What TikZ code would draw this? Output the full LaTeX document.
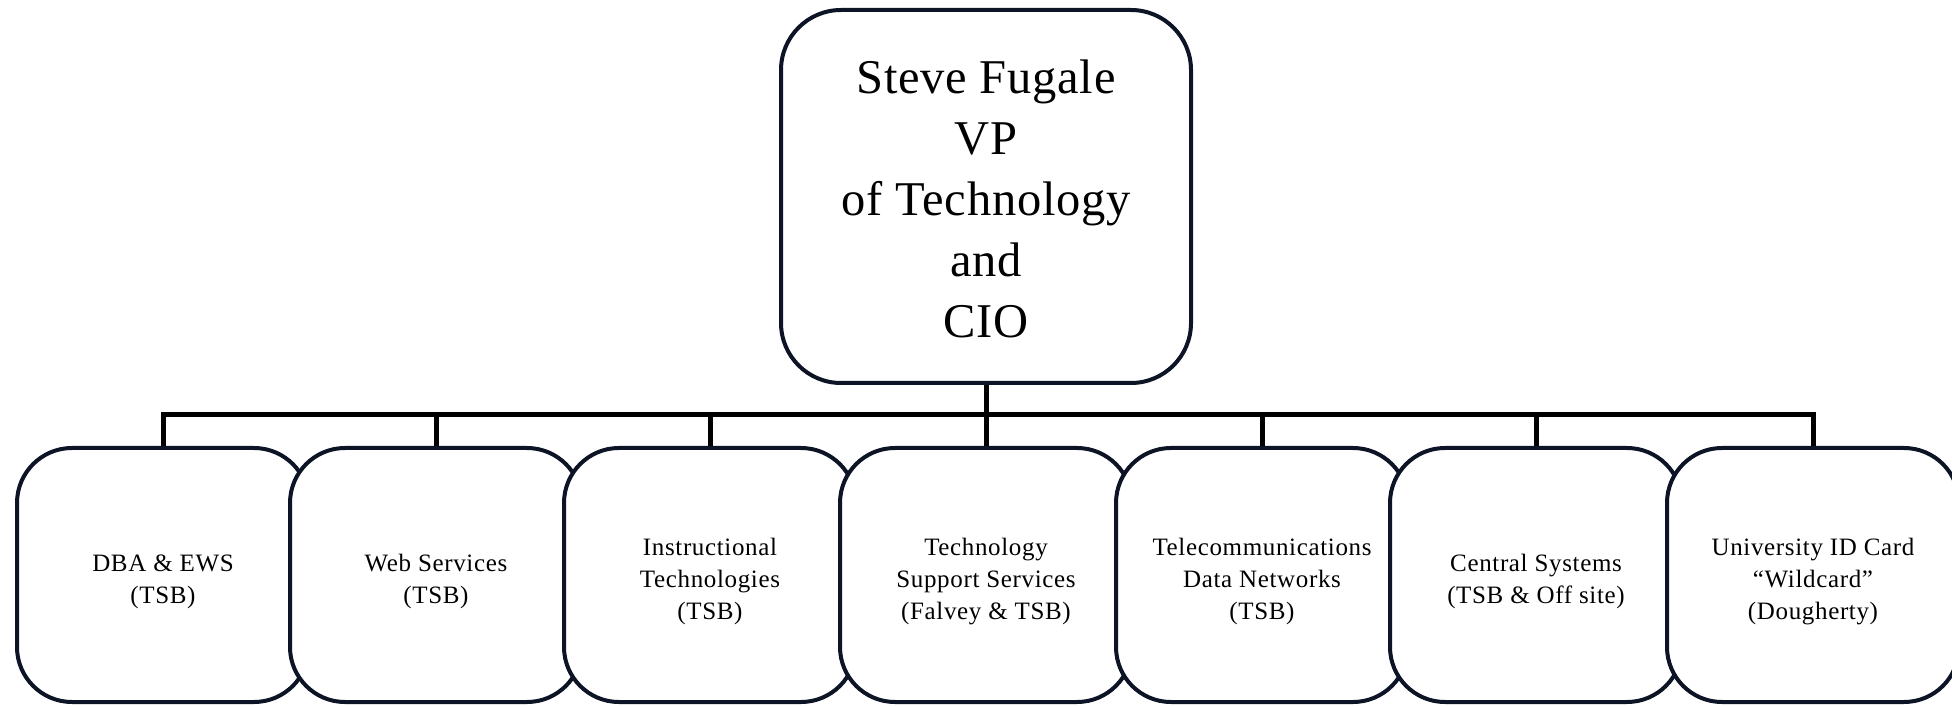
\documentclass[tikz,border=0pt]{standalone}
\usepackage{fontspec}
\setmainfont{Liberation Serif}
\definecolor{boxline}{RGB}{12,20,38}
\begin{document}
\begin{tikzpicture}[x=1pt,y=1pt,
  topbox/.style={draw=boxline, line width=4pt, fill=white, rounded corners=60pt,
    minimum width=410pt, minimum height=373pt, inner sep=0pt, align=center,
    font=\fontsize{48.5}{61}\selectfont\addfontfeature{LetterSpace=1.5}},
  unitbox/.style={draw=boxline, line width=4pt, fill=white, rounded corners=55pt,
    minimum width=292pt, minimum height=254pt, inner sep=0pt, align=center,
    font=\fontsize{25}{32}\selectfont\addfontfeature{LetterSpace=2.6}},
  bus/.style={draw=black, line width=5pt}]
\useasboundingbox (0,0) rectangle (1952,705);
\node[topbox] (top) at (986,508.5) {\rule{0pt}{38pt}Steve Fugale\\VP\\of Technology\\and\\CIO};
\coordinate (busc) at (986,290);
\draw[bus] (top.south) -- (busc);
\foreach \i/\x in {1/163,2/436,3/710,4/986,5/1262,6/1536,7/1813}{
  \coordinate (d\i) at (\x,257);
  \draw[bus] (busc) -| (d\i);
}
\node[unitbox] (b1) at (163,130) {\rule{0pt}{30pt}DBA \& EWS\\(TSB)};
\node[unitbox] (b2) at (436,130) {\rule{0pt}{30pt}Web Services\\(TSB)};
\node[unitbox] (b3) at (710,130) {\rule{0pt}{30pt}Instructional\\Technologies\\(TSB)};
\node[unitbox] (b4) at (986,130) {\rule{0pt}{30pt}Technology\\Support Services\\(Falvey \& TSB)};
\node[unitbox] (b5) at (1262,130) {\rule{0pt}{30pt}Telecommunications\\Data Networks\\(TSB)};
\node[unitbox] (b6) at (1536,130) {\rule{0pt}{30pt}Central Systems\\(TSB \& Off site)};
\node[unitbox] (b7) at (1813,130) {\rule{0pt}{30pt}University ID Card\\``Wildcard''\\(Dougherty)};
\end{tikzpicture}
\end{document}
